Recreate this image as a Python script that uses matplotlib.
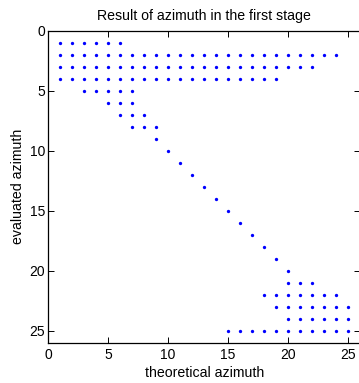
import matplotlib
matplotlib.use("Agg")
import matplotlib.pyplot as plt

# rows: (evaluated azimuth, range of theoretical azimuths)
row_y = [1, 2, 3, 4, 5, 6, 7, 8, 9, 10, 11, 12, 13, 14, 15, 16, 17, 18, 19, 20, 21, 22, 23, 24, 25]
row_x_start = [1, 1, 1, 1, 3, 5, 6, 7, 9, 10, 11, 12, 13, 14, 15, 16, 17, 18, 19, 20, 20, 18, 19, 20, 15]
row_x_end = [6, 24, 22, 19, 7, 7, 8, 9, 9, 10, 11, 12, 13, 14, 15, 16, 17, 18, 19, 20, 22, 24, 25, 25, 25]

xticks = [0, 5, 10, 15, 20, 25]
yticks = [0, 5, 10, 15, 20, 25]

xs, ys = [], []
for y, a, b in zip(row_y, row_x_start, row_x_end):
    for x in range(a, b + 1):
        xs.append(x)
        ys.append(y)

plt.rcParams['font.family'] = ['Liberation Sans', 'DejaVu Sans']
fig = plt.figure(figsize=(3.59, 3.83), dpi=100)
ax = fig.add_axes([48 / 359, (383 - 342.7) / 383, 312.3 / 359, 311.7 / 383])
ax.plot(xs, ys, linestyle='none', marker='o', markersize=2.4, color='#0000ff', markeredgewidth=0)
ax.set_xlim(0, 26)
ax.set_ylim(26, 0)
ax.set_xticks(xticks)
ax.set_yticks(yticks)
ax.tick_params(direction='in', length=4, width=0.7, top=True, right=True, labelsize=10)
ax.tick_params(axis='x', pad=4)
ax.tick_params(axis='y', pad=2)
for s in ax.spines.values():
    s.set_linewidth(0.9)
ax.set_title('Result of azimuth in the first stage', fontsize=10.2, pad=8)
ax.set_xlabel('theoretical azimuth', fontsize=10.2, labelpad=3)
ax.set_ylabel('evaluated azimuth', fontsize=10.2, labelpad=3)
fig.savefig('out.png', dpi=100)
